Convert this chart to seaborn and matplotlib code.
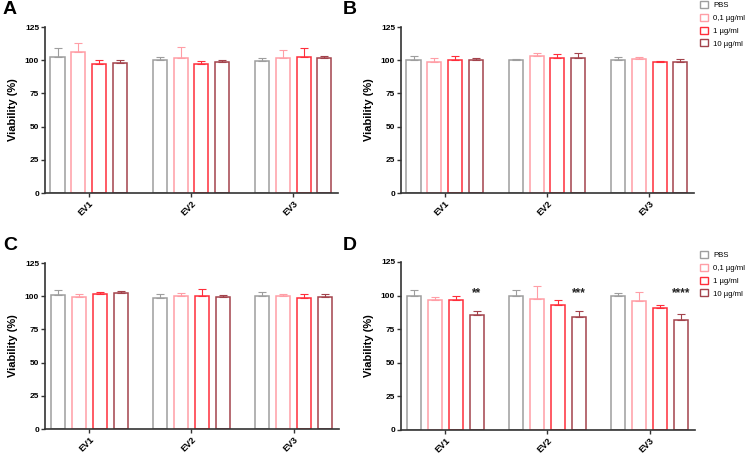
import pandas as pd
import seaborn as sns
import matplotlib.pyplot as plt
from matplotlib.patches import Patch

# data (mean, upper SD cap)
groups = ['EV1', 'EV2', 'EV3']
doses = ['PBS', '0,1 µg/ml', '1 µg/ml', '10 µg/ml']
colors = ['#9e9e9e', '#ff9ea6', '#ff2d3a', '#a3434c']

# rows = EV, columns = dose
mean_A = [[102.5, 105.8, 96.8, 97.8],
          [100.0, 102.0, 97.5, 98.3],
          [99.5, 102.0, 102.5, 101.5]]
sd_A = [[6.8, 7.0, 3.0, 2.5],
        [2.3, 8.0, 2.0, 2.0],
        [1.8, 6.0, 6.8, 1.8]]

mean_B = [[100.0, 99.0, 99.8, 100.5],
          [100.0, 103.5, 101.8, 102.0],
          [100.0, 100.8, 98.5, 98.8]]
sd_B = [[3.5, 2.3, 3.0, 1.5],
        [1.0, 2.0, 3.2, 3.5],
        [2.5, 1.5, 1.0, 2.3]]

mean_C = [[101.0, 99.2, 101.5, 102.3],
          [98.7, 100.5, 100.5, 99.7],
          [100.5, 100.3, 98.5, 99.2]]
sd_C = [[3.3, 2.6, 1.8, 1.7],
        [2.6, 2.0, 4.8, 1.1],
        [2.8, 1.5, 3.5, 2.3]]

mean_D = [[100.0, 96.4, 96.4, 85.7],
          [100.0, 97.4, 93.2, 84.0],
          [100.0, 95.9, 90.9, 81.8]]
sd_D = [[4.0, 2.3, 3.0, 2.8],
        [4.0, 9.6, 3.7, 4.5],
        [2.0, 7.0, 2.3, 4.5]]
stars_D = ['**', '***', '****']

plt.rcParams['font.family'] = ['Liberation Sans', 'DejaVu Sans']

fig = plt.figure(figsize=(7.48, 4.55), dpi=100)

W, H = 748, 455
def make_ax(x0, x1, ytop, ybot):
    return fig.add_axes([x0 / W, 1 - ybot / H, (x1 - x0) / W, (ybot - ytop) / H])

panels = [
    ('A', make_ax(45, 338, 27, 193), mean_A, sd_A, (3, 1)),
    ('B', make_ax(401, 694, 27, 193), mean_B, sd_B, (343, 1)),
    ('C', make_ax(45, 339, 263, 429), mean_C, sd_C, (3, 237)),
    ('D', make_ax(401, 695, 262, 430), mean_D, sd_D, (343, 237)),
]

axis_col = '#333333'

for letter, ax, means, sds, (lx, ly) in panels:
    rows = []
    for i, g in enumerate(groups):
        for j, d in enumerate(doses):
            rows.append({'group': g, 'dose': d, 'value': means[i][j], 'sd': sds[i][j]})
    df = pd.DataFrame(rows)

    sns.barplot(data=df, x='group', y='value', hue='dose', order=groups,
                hue_order=doses, palette=colors, fill=False, errorbar=None,
                width=0.82, gap=0.33, linewidth=1.1, legend=False, ax=ax)
    bar_sets = list(ax.containers)

    # upper-only SD error bars on each bar
    for j, cont in enumerate(bar_sets):
        for i, bar in enumerate(cont):
            xc = bar.get_x() + bar.get_width() / 2
            ax.errorbar(xc, bar.get_height(), yerr=[[0], [sds[i][j]]], fmt='none',
                        ecolor=colors[j], elinewidth=0.8, capsize=2.8,
                        capthick=0.8, zorder=1)

    if letter == 'D':
        for i, bar in enumerate(bar_sets[3]):
            xc = bar.get_x() + bar.get_width() / 2
            ax.text(xc, 101.5, stars_D[i], ha='center', va='center',
                    fontsize=8.5, fontweight='bold', color='#222222')

    ax.set_ylim(0, 125)
    ax.set_xlim(-0.43, 2.44)
    ax.set_yticks([0, 25, 50, 75, 100, 125])
    ax.set_ylabel('Viability (%)', fontsize=8, fontweight='bold', labelpad=5)
    ax.set_xlabel('')
    for s in ['top', 'right']:
        ax.spines[s].set_visible(False)
    for s in ['left', 'bottom']:
        ax.spines[s].set_color(axis_col)
        ax.spines[s].set_linewidth(1.2)
    ax.tick_params(axis='both', colors=axis_col, width=1.0, length=3,
                   labelsize=6, pad=1.2)
    ax.tick_params(axis='x', length=3, labelsize=6.5, pad=1.5)
    for t in ax.get_yticklabels():
        t.set_fontweight('bold')
        t.set_color('black')
    for t in ax.get_xticklabels():
        t.set_fontweight('bold')
        t.set_color('black')
        t.set_rotation(45)
        t.set_ha('right')
        t.set_rotation_mode('anchor')

    fig.text(lx / W, 1 - ly / H, letter, ha='left', va='top',
             fontsize=14, fontweight='bold')

handles = [Patch(facecolor='white', edgecolor=c, linewidth=1.0) for c in colors]
for ytop in [1, 251]:
    fig.legend(handles, doses, loc='upper left', bbox_to_anchor=(700 / W, 1 - ytop / H),
               frameon=False, fontsize=5.6, handlelength=1.0, handleheight=1.0,
               handletextpad=0.7, labelspacing=0.6, borderpad=0.0,
               borderaxespad=0)

fig.savefig('out.png', dpi=100)
